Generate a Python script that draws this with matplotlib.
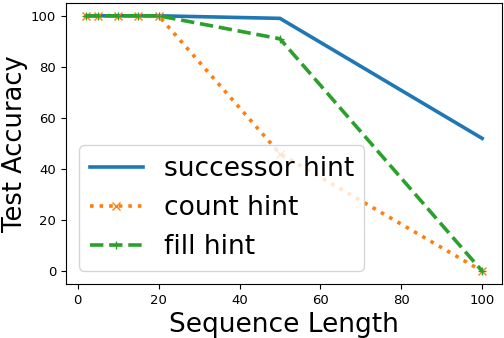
import numpy as np
import matplotlib.pyplot as plt

seq_len = [2, 5, 10, 15, 20, 50, 100]
successor_acc = [100, 100, 100, 100, 100, 99, 52]
count_acc = [100, 100, 100, 100, 100, 46, 0]
fill_acc = [100, 100, 100, 100, 100, 91, 0]

fig, ax = plt.subplots(figsize=(5.04, 3.38), dpi=100)
ax.plot(seq_len, successor_acc, lw=2.6, label='successor hint')
ax.plot(seq_len, count_acc, lw=2.6, ls=':', marker='x', label='count hint')
ax.plot(seq_len, fill_acc, lw=2.6, ls='--', marker='+', label='fill hint')

ax.set_xlabel('Sequence Length', fontsize=19)
ax.set_ylabel('Test Accuracy', fontsize=18.5)
ax.yaxis.set_label_coords(-0.088, 0.5)  # keep label inside the canvas
ax.set_xticks([0, 20, 40, 60, 80, 100])
ax.set_yticks([0, 20, 40, 60, 80, 100])
ax.tick_params(labelsize=9.5)
ax.legend(fontsize=19, loc='lower left')

plt.subplots_adjust(left=0.131, right=0.996, top=0.991, bottom=0.16)
plt.savefig('out.png')
